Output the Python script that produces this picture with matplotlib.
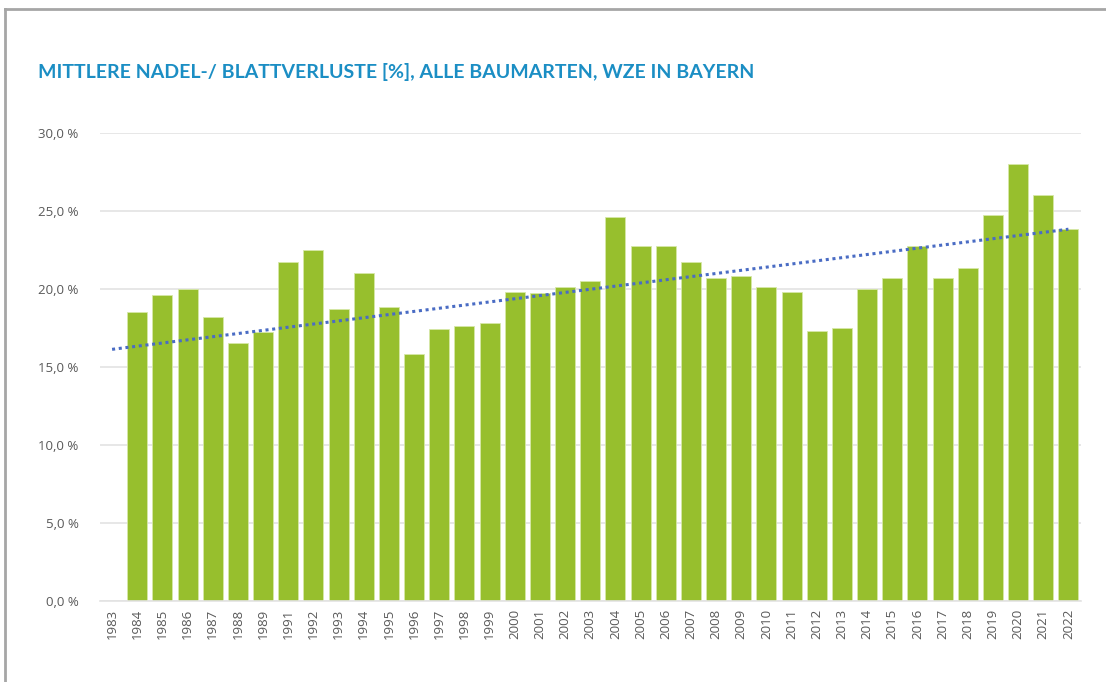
import matplotlib
matplotlib.use("Agg")
import matplotlib.pyplot as plt
import numpy as np

# Jahre (1990 fehlt in der Reihe, 1983 ohne Wert)
jahre = ['1983', '1984', '1985', '1986', '1987', '1988', '1989', '1991', '1992',
         '1993', '1994', '1995', '1996', '1997', '1998', '1999', '2000', '2001',
         '2002', '2003', '2004', '2005', '2006', '2007', '2008', '2009', '2010',
         '2011', '2012', '2013', '2014', '2015', '2016', '2017', '2018', '2019',
         '2020', '2021', '2022']
verluste = [np.nan, 18.5, 19.6, 20.0, 18.2, 16.5, 17.2, 21.7, 22.5,
            18.7, 21.0, 18.8, 15.8, 17.4, 17.6, 17.8, 19.8, 19.7,
            20.1, 20.5, 24.6, 22.7, 22.7, 21.7, 20.7, 20.8, 20.1,
            19.8, 17.3, 17.5, 20.0, 20.7, 22.7, 20.7, 21.3, 24.7,
            28.0, 26.0, 23.8]
# Trendlinie (Anfangs- und Endwert)
trend_start = 16.1
trend_ende = 23.8
y_ticks = [0, 5, 10, 15, 20, 25, 30]

W, H = 1106, 682
fig = plt.figure(figsize=(W / 100, H / 100), dpi=100)

# Rahmen (nur links und oben sichtbar)
fig.add_artist(plt.Line2D([5 / W, 5 / W], [0, 1 - 9 / H], color='#a6a6a6', lw=2))
fig.add_artist(plt.Line2D([5 / W, 1], [1 - 9 / H, 1 - 9 / H], color='#a6a6a6', lw=2))

ax = fig.add_axes([99.5 / W, 1 - 600.5 / H, (1081 - 99.5) / W, (600.5 - 132.5) / H])

x = np.arange(len(jahre))
werte = np.array(verluste, dtype=float)
ax.bar(x, werte, width=0.8, color='#97bf2d', edgecolor='#d6e8a8', linewidth=0.6, zorder=2)

# lineare Trendlinie
ax.plot([x[0], x[-1]], [trend_start, trend_ende], color='#4a6cc4',
        linestyle=(0, (1, 1.2)), lw=2.2, zorder=3)

ax.set_xlim(-0.5, len(jahre) - 0.5)
ax.set_ylim(0, 30)
ax.set_yticks(y_ticks)
ax.set_yticklabels([f'{v:.1f} %'.replace('.', ',') for v in y_ticks])
ax.set_xticks(x)
ax.set_xticklabels(jahre, rotation=90)
ax.yaxis.grid(True, color='#e3e3e3', lw=1.2, zorder=0)
ax.set_axisbelow(True)
for s in ['top', 'right', 'left']:
    ax.spines[s].set_visible(False)
ax.spines['bottom'].set_color('#e3e3e3')
ax.spines['bottom'].set_linewidth(1.2)
ax.tick_params(axis='both', length=0, colors='#595959', labelsize=9.5)
ax.tick_params(axis='y', pad=15)
ax.tick_params(axis='x', pad=6)
for t in ax.get_yticklabels() + ax.get_xticklabels():
    t.set_family('Open Sans')

fig.text(38 / W, 1 - 72 / H, 'MITTLERE NADEL-/ BLATTVERLUSTE [%], ALLE BAUMARTEN, WZE IN BAYERN',
         color='#1b8ec4', fontsize=14, fontweight='bold', family='Lato', va='center', ha='left')

fig.savefig('out.png', dpi=100, facecolor='white')
